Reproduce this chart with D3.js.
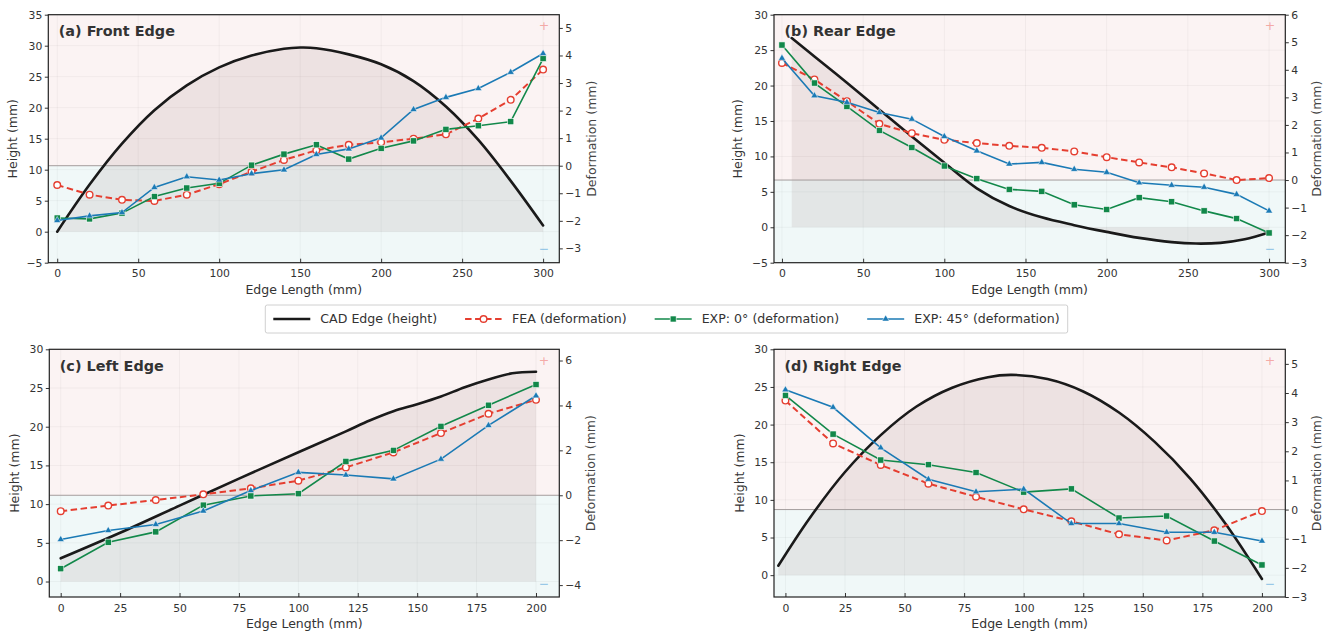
<!DOCTYPE html>
<html>
<head>
<meta charset="utf-8">
<script src="https://cdn.jsdelivr.net/npm/d3@7"></script>
<style>
  body { margin: 0; background: #fff; }
  svg { display: block; font-family: "DejaVu Sans", sans-serif; }
</style>
</head>
<body>
<div id="viz"></div>
<script>
// Edge profile: CAD height (left axis) + deformation series (right axis)

// (a) Front edge
const frontCadX = [0, 20, 40, 60, 80, 100, 120, 140, 150, 160, 180, 200, 220, 240, 260, 280, 300];
const frontCadH = [0, 7.6, 14.2, 19.6, 23.6, 26.5, 28.4, 29.5, 29.7, 29.6, 28.6, 27.0, 24.3, 20.2, 14.8, 8.2, 1.0];
const frontX = [0, 20, 40, 60, 80, 100, 120, 140, 160, 180, 200, 220, 240, 260, 280, 300];
const frontFEA = [-0.70, -1.05, -1.24, -1.28, -1.05, -0.67, -0.22, 0.21, 0.56, 0.76, 0.85, 0.98, 1.14, 1.71, 2.39, 3.49];
const frontExp0 = [-1.90, -1.93, -1.72, -1.12, -0.81, -0.64, 0.02, 0.42, 0.76, 0.24, 0.63, 0.90, 1.32, 1.45, 1.60, 3.89];
const frontExp45 = [-1.99, -1.82, -1.70, -0.79, -0.40, -0.52, -0.29, -0.15, 0.41, 0.61, 1.01, 2.04, 2.48, 2.80, 3.39, 4.07];

// (b) Rear edge
const rearCadX = [6, 20, 40, 60, 80, 100, 120, 140, 160, 180, 200, 220, 240, 255, 270, 285, 300];
const rearCadH = [26.7, 24.1, 20.4, 16.6, 12.8, 9.1, 5.5, 3.0, 1.4, 0.3, -0.65, -1.5, -2.1, -2.3, -2.2, -1.7, -0.75];
const rearX = [0, 20, 40, 60, 80, 100, 120, 140, 160, 180, 200, 220, 240, 260, 280, 300];
const rearFEA = [4.25, 3.65, 2.86, 2.04, 1.70, 1.46, 1.34, 1.24, 1.17, 1.04, 0.83, 0.64, 0.46, 0.24, 0.0, 0.07];
const rearExp0 = [4.90, 3.52, 2.67, 1.80, 1.18, 0.51, 0.05, -0.34, -0.41, -0.90, -1.07, -0.64, -0.79, -1.12, -1.40, -1.92];
const rearExp45 = [4.42, 3.06, 2.82, 2.45, 2.21, 1.58, 1.06, 0.58, 0.64, 0.39, 0.28, -0.10, -0.19, -0.26, -0.52, -1.12];

// (c) Left edge
const leftCadX = [0, 25, 50, 75, 100, 120, 130, 140, 150, 160, 170, 180, 190, 200];
const leftCadH = [3.0, 6.3, 9.8, 13.3, 16.7, 19.4, 20.8, 22.0, 22.9, 23.9, 25.1, 26.1, 26.9, 27.1];
const leftX = [0, 20, 40, 60, 80, 100, 120, 140, 160, 180, 200];
const leftFEA = [-0.71, -0.46, -0.21, 0.04, 0.31, 0.65, 1.24, 1.91, 2.77, 3.63, 4.25];
const leftExp0 = [-3.27, -2.09, -1.63, -0.44, -0.03, 0.07, 1.51, 2.00, 3.07, 4.01, 4.93];
const leftExp45 = [-1.97, -1.57, -1.30, -0.70, 0.21, 1.02, 0.90, 0.73, 1.61, 3.11, 4.43];

// (d) Right edge
const rightCadX = [-3, 10, 25, 40, 55, 70, 85, 95, 110, 125, 140, 155, 170, 185, 200];
const rightCadH = [1.25, 7.5, 13.7, 18.6, 22.4, 24.9, 26.3, 26.6, 26.05, 24.4, 21.6, 17.7, 12.8, 6.7, -0.5];
const rightX = [0, 20, 40, 60, 80, 100, 120, 140, 160, 180, 200];
const rightFEA = [3.74, 2.27, 1.53, 0.89, 0.44, 0.01, -0.40, -0.85, -1.06, -0.71, -0.05];
const rightExp0 = [3.92, 2.59, 1.70, 1.54, 1.27, 0.60, 0.71, -0.29, -0.22, -1.08, -1.90];
const rightExp45 = [4.11, 3.51, 2.12, 1.04, 0.61, 0.70, -0.48, -0.48, -0.78, -0.78, -1.08];

// tick labels
const ticks300 = [0, 50, 100, 150, 200, 250, 300];
const ticks200 = [0, 25, 50, 75, 100, 125, 150, 175, 200];

const legendLabels = ["CAD Edge (height)", "FEA (deformation)", "EXP: 0° (deformation)", "EXP: 45° (deformation)"];

const colors = {
    cad: "#1a1a1a",
    fea: "#e53e30",
    exp0: "#12884a",
    exp45: "#1b7ab5"
};

const width = 1333, height = 632;

const svg = d3.select("#viz")
    .append("svg")
    .attr("width", width)
    .attr("height", height)
    .style("background", "#fff");

const panels = [
    {
        key: "a", title: "(a) Front Edge",
        box: { left: 48.3, top: 14.7, right: 559.3, bottom: 262.7 },
        xDom: [-5.5, 310], hDom: [-5, 35], dDom: [-3.52, 5.48],
        xTicks: ticks300, hTicks: [-5, 0, 5, 10, 15, 20, 25, 30, 35], dTicks: [-3, -2, -1, 0, 1, 2, 3, 4, 5],
        hLabelX: 13, dLabelX: 592,
        cadX: frontCadX, cadH: frontCadH, x: frontX, fea: frontFEA, exp0: frontExp0, exp45: frontExp45
    },
    {
        key: "b", title: "(b) Rear Edge",
        box: { left: 774, top: 14.7, right: 1285.3, bottom: 262.7 },
        xDom: [-4.9, 310], hDom: [-5, 30], dDom: [-3, 6],
        xTicks: ticks300, hTicks: [-5, 0, 5, 10, 15, 20, 25, 30], dTicks: [-3, -2, -1, 0, 1, 2, 3, 4, 5, 6],
        hLabelX: 738, dLabelX: 1316.5,
        cadX: rearCadX, cadH: rearCadH, x: rearX, fea: rearFEA, exp0: rearExp0, exp45: rearExp45
    },
    {
        key: "c", title: "(c) Left Edge",
        box: { left: 49.3, top: 349.3, right: 559.3, bottom: 597 },
        xDom: [-4.8, 209.8], hDom: [-2, 30], dDom: [-4.53, 6.5],
        xTicks: ticks200, hTicks: [0, 5, 10, 15, 20, 25, 30], dTicks: [-4, -2, 0, 2, 4, 6],
        hLabelX: 15, dLabelX: 591,
        cadX: leftCadX, cadH: leftCadH, x: leftX, fea: leftFEA, exp0: leftExp0, exp45: leftExp45
    },
    {
        key: "d", title: "(d) Right Edge",
        box: { left: 774, top: 349.3, right: 1285.3, bottom: 597 },
        xDom: [-4.8, 209.8], hDom: [-2.9, 30], dDom: [-3, 5.5],
        xTicks: ticks200, hTicks: [0, 5, 10, 15, 20, 25, 30], dTicks: [-3, -2, -1, 0, 1, 2, 3, 4, 5],
        hLabelX: 740, dLabelX: 1316.5,
        cadX: rightCadX, cadH: rightCadH, x: rightX, fea: rightFEA, exp0: rightExp0, exp45: rightExp45
    }
];

const fmt = d3.format("");

function drawPanel(p) {
    const b = p.box;
    const w = b.right - b.left, h = b.bottom - b.top;
    const x = d3.scaleLinear().domain(p.xDom).range([b.left, b.right]);
    const yH = d3.scaleLinear().domain(p.hDom).range([b.bottom, b.top]);
    const yD = d3.scaleLinear().domain(p.dDom).range([b.bottom, b.top]);

    const g = svg.append("g").attr("class", "panel-" + p.key);

    svg.append("clipPath").attr("id", "clip-" + p.key)
        .append("rect").attr("x", b.left).attr("y", b.top).attr("width", w).attr("height", h);

    const plot = g.append("g").attr("clip-path", `url(#clip-${p.key})`);

    // zones: positive / negative deformation
    plot.append("rect")
        .attr("x", b.left).attr("y", b.top)
        .attr("width", w).attr("height", yD(0) - b.top)
        .attr("fill", "#fbf3f3");
    plot.append("rect")
        .attr("x", b.left).attr("y", yD(0))
        .attr("width", w).attr("height", b.bottom - yD(0))
        .attr("fill", "#f0f8f8");

    // faint grid
    plot.selectAll("line.gx").data(p.xTicks).enter().append("line")
        .attr("x1", d => x(d)).attr("x2", d => x(d))
        .attr("y1", b.top).attr("y2", b.bottom)
        .attr("stroke", "rgba(0,0,0,0.05)").attr("stroke-width", 0.8);
    plot.selectAll("line.gy").data(p.hTicks).enter().append("line")
        .attr("x1", b.left).attr("x2", b.right)
        .attr("y1", d => yH(d)).attr("y2", d => yH(d))
        .attr("stroke", "rgba(0,0,0,0.05)").attr("stroke-width", 0.8);

    // CAD edge filled down to zero height
    const cad = p.cadX.map((v, i) => [v, p.cadH[i]]);
    plot.append("path").datum(cad)
        .attr("d", d3.area()
            .x(d => x(d[0])).y0(yH(0)).y1(d => yH(d[1]))
            .curve(d3.curveCatmullRom.alpha(0.5)))
        .attr("fill", "rgba(90,50,50,0.085)");

    // zero deformation line
    plot.append("line")
        .attr("x1", b.left).attr("x2", b.right)
        .attr("y1", yD(0)).attr("y2", yD(0))
        .attr("stroke", "#a49c9c").attr("stroke-width", 1);

    plot.append("path").datum(cad)
        .attr("d", d3.line().x(d => x(d[0])).y(d => yH(d[1])).curve(d3.curveCatmullRom.alpha(0.5)))
        .attr("fill", "none").attr("stroke", colors.cad).attr("stroke-width", 2.6)
        .attr("stroke-linecap", "round");

    const lineD = d3.line().x(d => x(d[0])).y(d => yD(d[1]));
    const fea = p.x.map((v, i) => [v, p.fea[i]]);
    const e0 = p.x.map((v, i) => [v, p.exp0[i]]);
    const e45 = p.x.map((v, i) => [v, p.exp45[i]]);

    const marks = g.append("g");

    // FEA: dashed red, open circles
    marks.append("path").datum(fea).attr("d", lineD)
        .attr("fill", "none").attr("stroke", colors.fea).attr("stroke-width", 2)
        .attr("stroke-dasharray", "6.5,3.5");
    marks.selectAll("circle.fea").data(fea).enter().append("circle")
        .attr("cx", d => x(d[0])).attr("cy", d => yD(d[1])).attr("r", 3.3)
        .attr("fill", "#fff").attr("stroke", colors.fea).attr("stroke-width", 1.4);

    // EXP 0°: green, squares
    marks.append("path").datum(e0).attr("d", lineD)
        .attr("fill", "none").attr("stroke", colors.exp0).attr("stroke-width", 1.6);
    marks.selectAll("rect.e0").data(e0).enter().append("rect")
        .attr("x", d => x(d[0]) - 3.1).attr("y", d => yD(d[1]) - 3.1)
        .attr("width", 6.2).attr("height", 6.2)
        .attr("fill", colors.exp0).attr("stroke", "#fff").attr("stroke-width", 0.6);

    // EXP 45°: blue, triangles
    marks.append("path").datum(e45).attr("d", lineD)
        .attr("fill", "none").attr("stroke", colors.exp45).attr("stroke-width", 1.6);
    marks.selectAll("path.e45").data(e45).enter().append("path")
        .attr("d", d3.symbol().type(d3.symbolTriangle).size(22))
        .attr("transform", d => `translate(${x(d[0])},${yD(d[1])})`)
        .attr("fill", colors.exp45).attr("stroke", "#fff").attr("stroke-width", 0.5);

    // +/- hints
    g.append("text")
        .attr("x", b.left + 0.97 * w).attr("y", b.top + 0.045 * h)
        .attr("text-anchor", "middle").attr("dy", "0.35em")
        .attr("font-size", 12.5).attr("fill", "rgba(235,80,70,0.45)")
        .text("+");
    g.append("text")
        .attr("x", b.left + 0.97 * w).attr("y", b.top + 0.945 * h)
        .attr("text-anchor", "middle").attr("dy", "0.35em")
        .attr("font-size", 12.5).attr("fill", "rgba(40,140,210,0.5)")
        .text("\u2212");

    // axes
    const xAxis = d3.axisBottom(x).tickValues(p.xTicks).tickSize(-4).tickPadding(7).tickFormat(fmt);
    const yAxisL = d3.axisLeft(yH).tickValues(p.hTicks).tickSize(3.5).tickPadding(2.5).tickFormat(d3.format(""));
    const yAxisR = d3.axisRight(yD).tickValues(p.dTicks).tickSize(3.5).tickPadding(2.5).tickFormat(d3.format(""));

    const styleAxis = sel => {
        sel.select(".domain").remove();
        sel.selectAll(".tick line").attr("stroke", "#333");
        sel.selectAll(".tick text").attr("fill", "#333").attr("font-size", 10.8)
            .attr("font-family", "DejaVu Sans");
    };
    g.append("g").attr("transform", `translate(0,${b.bottom})`).call(xAxis).call(styleAxis);
    g.append("g").attr("transform", `translate(${b.left},0)`).call(yAxisL).call(styleAxis);
    g.append("g").attr("transform", `translate(${b.right},0)`).call(yAxisR).call(styleAxis);

    // frame
    g.append("rect")
        .attr("x", b.left).attr("y", b.top).attr("width", w).attr("height", h)
        .attr("fill", "none").attr("stroke", "#222").attr("stroke-width", 1.2);

    // labels
    g.append("text")
        .attr("x", (b.left + b.right) / 2).attr("y", b.bottom + 31)
        .attr("text-anchor", "middle").attr("font-size", 12.5).attr("fill", "#333")
        .text("Edge Length (mm)");
    g.append("text")
        .attr("transform", `translate(${p.hLabelX},${(b.top + b.bottom) / 2}) rotate(-90)`)
        .attr("text-anchor", "middle").attr("dy", "0.35em")
        .attr("font-size", 12.5).attr("fill", "#333")
        .text("Height (mm)");
    g.append("text")
        .attr("transform", `translate(${p.dLabelX},${(b.top + b.bottom) / 2}) rotate(-90)`)
        .attr("text-anchor", "middle").attr("dy", "0.35em")
        .attr("font-size", 12.5).attr("fill", "#444")
        .text("Deformation (mm)");

    g.append("text")
        .attr("x", b.left + 10.5).attr("y", b.top + 21.5)
        .attr("font-size", 14.4).attr("font-weight", "bold").attr("fill", "#333")
        .text(p.title);
}

panels.forEach(drawPanel);

// Legend, centred between the two rows
const legend = svg.append("g").attr("class", "legend");
const legendBox = legend.append("rect")
    .attr("fill", "#fff").attr("stroke", "#d0d0d0").attr("stroke-width", 1)
    .attr("rx", 2);
const legY = 319;
const handleLen = 37, textGap = 10, itemGap = 28;
let cursor = 0;
const legItems = legend.append("g");
legendLabels.forEach((label, i) => {
    const it = legItems.append("g").attr("transform", `translate(${cursor},0)`);
    const key = ["cad", "fea", "exp0", "exp45"][i];
    const mid = handleLen / 2;
    const ln = it.append("line").attr("x1", 0).attr("x2", handleLen).attr("y1", legY).attr("y2", legY)
        .attr("stroke", colors[key]);
    if (key === "cad") ln.attr("stroke-width", 2.6);
    if (key === "fea") {
        ln.attr("stroke-width", 2).attr("stroke-dasharray", "6.5,3.5");
        it.append("circle").attr("cx", mid).attr("cy", legY).attr("r", 3.3)
            .attr("fill", "#fff").attr("stroke", colors.fea).attr("stroke-width", 1.4);
    }
    if (key === "exp0") {
        ln.attr("stroke-width", 1.6);
        it.append("rect").attr("x", mid - 3).attr("y", legY - 3).attr("width", 6).attr("height", 6)
            .attr("fill", colors.exp0).attr("stroke", "#fff").attr("stroke-width", 0.6);
    }
    if (key === "exp45") {
        ln.attr("stroke-width", 1.6);
        it.append("path").attr("d", d3.symbol().type(d3.symbolTriangle).size(22))
            .attr("transform", `translate(${mid},${legY})`)
            .attr("fill", colors.exp45).attr("stroke", "#fff").attr("stroke-width", 0.5);
    }
    const t = it.append("text").attr("x", handleLen + textGap).attr("y", legY).attr("dy", "0.35em")
        .attr("font-size", 12.6).attr("fill", "#333").text(label);
    cursor += handleLen + textGap + t.node().getComputedTextLength() + itemGap;
});
const contentW = cursor - itemGap;
const boxW = contentW + 16;
const boxX = (width - boxW) / 2;
legItems.attr("transform", `translate(${boxX + 8},0)`);
legendBox.attr("x", boxX).attr("y", 305).attr("width", boxW).attr("height", 28);
</script>
</body>
</html>
